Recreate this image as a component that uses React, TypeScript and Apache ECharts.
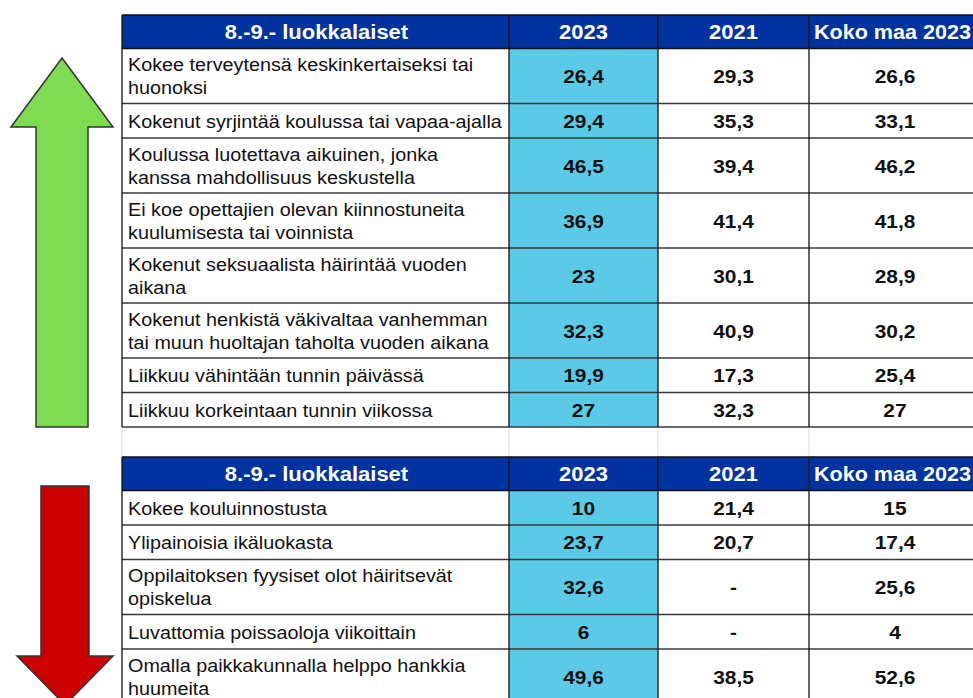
import React, { useEffect, useRef } from "react";
import * as echarts from "echarts";

const headers = ["8.-9.- luokkalaiset", "2023", "2021", "Koko maa 2023"];

const topLabels = [
  "Kokee terveytensä keskinkertaiseksi tai\nhuonoksi",
  "Kokenut syrjintää koulussa tai vapaa-ajalla",
  "Koulussa luotettava aikuinen, jonka\nkanssa mahdollisuus keskustella",
  "Ei koe opettajien olevan kiinnostuneita\nkuulumisesta tai voinnista",
  "Kokenut seksuaalista häirintää vuoden\naikana",
  "Kokenut henkistä väkivaltaa vanhemman\ntai muun huoltajan taholta vuoden aikana",
  "Liikkuu vähintään tunnin päivässä",
  "Liikkuu korkeintaan tunnin viikossa",
];
const top2023 = [26.4, 29.4, 46.5, 36.9, 23, 32.3, 19.9, 27];
const top2021 = [29.3, 35.3, 39.4, 41.4, 30.1, 40.9, 17.3, 32.3];
const topKoko = [26.6, 33.1, 46.2, 41.8, 28.9, 30.2, 25.4, 27];

const bottomLabels = [
  "Kokee kouluinnostusta",
  "Ylipainoisia ikäluokasta",
  "Oppilaitoksen fyysiset olot häiritsevät\nopiskelua",
  "Luvattomia poissaoloja viikoittain",
  "Omalla paikkakunnalla helppo hankkia\nhuumeita",
];
const bottom2023 = [10, 23.7, 32.6, 6, 49.6];
const bottom2021: (number | null)[] = [21.4, 20.7, null, null, 38.5];
const bottomKoko = [15, 17.4, 25.6, 4, 52.6];

const FONT = "'Liberation Sans', Arial, sans-serif";
const COLS = [122, 509, 658, 809, 990];
const HEADER_H = 33.5;
const BLUE = "#0033A0";
const LIGHT = "#5BCAE6";

const fmt = (v: number | null) => (v === null ? "-" : String(v).replace(".", ","));
const rowH = (label: string) => (label.includes("\n") ? 55 : 34.5);

function txt(text: string, x: number, y: number, font: string, fill: string, align: string, scaleX: number, lineHeight?: number) {
  return {
    type: "text",
    x,
    y,
    scaleX,
    style: { text, x: 0, y: 0, fill, font, align, verticalAlign: "middle", ...(lineHeight ? { lineHeight } : {}) },
  };
}

function buildTable(yTop: number, labels: string[], c2: (number | null)[], c3: (number | null)[], c4: (number | null)[]) {
  const els: any[] = [];
  const lines: any[] = [];
  els.push({ type: "rect", shape: { x: COLS[0], y: yTop, width: COLS[4] - COLS[0], height: HEADER_H }, style: { fill: BLUE } });
  headers.forEach((h, i) => {
    const cx = (COLS[i] + COLS[i + 1]) / 2 + (i === 3 ? -7 : i === 0 ? 1 : 0);
    els.push(txt(h, cx, yTop + HEADER_H / 2, `bold 20px ${FONT}`, "#fff", "center", i === 3 ? 1.08 : 1.1));
  });
  let y = yTop + HEADER_H;
  const ys = [yTop, y];
  labels.forEach((lab, r) => {
    const h = rowH(lab);
    els.push({ type: "rect", shape: { x: COLS[1], y, width: COLS[2] - COLS[1], height: h }, style: { fill: LIGHT } });
    els.push(txt(lab, 128, y + h / 2 + 0.5, `18.5px ${FONT}`, "#111", "left", 1.07, 23));
    [c2[r], c3[r], c4[r]].forEach((v, k) => {
      const cx = (COLS[k + 1] + COLS[k + 2]) / 2 + (k === 2 ? -4.5 : 0);
      els.push(txt(fmt(v), cx, y + h / 2 + 0.5, `bold 19px ${FONT}`, "#111", "center", 1.1));
    });
    y += h;
    ys.push(y);
  });
  ys.forEach((yy, i) => {
    lines.push({
      type: "line",
      shape: { x1: COLS[0], y1: yy, x2: COLS[4], y2: yy },
      style: { stroke: i <= 1 ? "#111" : "#3a3a3a", lineWidth: i <= 1 ? 1.3 : 1.6 },
    });
  });
  COLS.slice(0, 4).forEach((x) => {
    lines.push({ type: "line", shape: { x1: x, y1: yTop, x2: x, y2: y }, style: { stroke: "#111", lineWidth: 1.3 } });
  });
  return { els: els.concat(lines), bottom: y };
}

export default function App() {
  const ref = useRef<HTMLDivElement>(null);
  useEffect(() => {
    if (!ref.current) return;
    const chart = echarts.init(ref.current, null, { renderer: "svg" });
    const t1 = buildTable(15, topLabels, top2023, top2021, topKoko);
    const t2 = buildTable(457, bottomLabels, bottom2023, bottom2021, bottomKoko);
    const gap: any[] = COLS.slice(0, 4).map((x) => ({
      type: "line",
      shape: { x1: x, y1: t1.bottom, x2: x, y2: 457 },
      style: { stroke: "#dddddd", lineWidth: 1 },
    }));
    const arrows: any[] = [
      {
        type: "polygon",
        shape: { points: [[62, 58], [113, 127], [88, 127], [88, 427], [36, 427], [36, 127], [11, 127]] },
        style: { fill: "#7EDB52", stroke: "#333", lineWidth: 1.5 },
      },
      {
        type: "polygon",
        shape: { points: [[41, 486], [89, 486], [89, 656], [113, 656], [65, 705], [17, 656], [41, 656]] },
        style: { fill: "#CC0000", stroke: "#333", lineWidth: 1.5 },
      },
    ];
    chart.setOption({
      animation: false,
      backgroundColor: "#ffffff",
      graphic: { elements: [...gap, ...t1.els, ...t2.els, ...arrows] },
    });
    return () => chart.dispose();
  }, []);
  return <div ref={ref} style={{ position: "fixed", left: 0, top: 0, width: 973, height: 698 }} />;
}
